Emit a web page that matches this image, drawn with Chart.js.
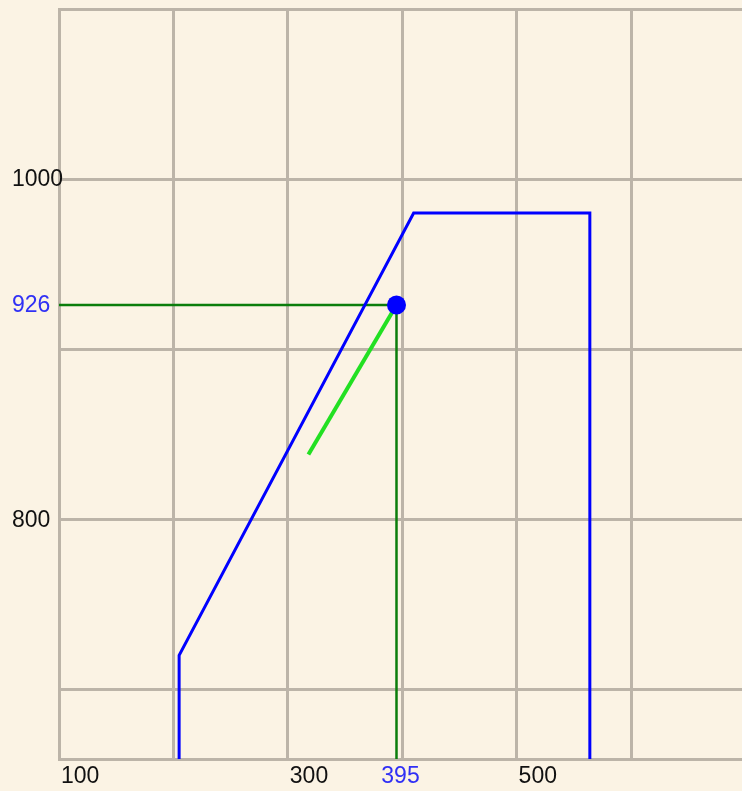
<!DOCTYPE html>
<html>
<head>
<meta charset="utf-8">
<script src="https://cdn.jsdelivr.net/npm/chart.js@4/dist/chart.umd.min.js"></script>
<style>
  html, body { margin: 0; padding: 0; background: #fbf3e4; }
  canvas { display: block; }
</style>
</head>
<body>
<canvas id="c" width="742" height="791"></canvas>
<script>
// Operating envelope outline
const envelopeX = [205, 205, 410, 564, 564];
const envelopeY = [659, 720, 980, 980, 659];

// Trend segment leading to the operating point
const trendX = [318, 395];
const trendY = [838, 926];

// Operating point
const pointX = 395;
const pointY = 926;

// Axis ranges and grid values
const xRange = [100, 697];
const yRange = [659, 1100];
const xGrid = [100, 200, 300, 400, 500, 600];
const yGrid = [700, 800, 900, 1000, 1100];

// Printed tick labels
const xTickLabels = ['100', '300', '500'];
const yTickLabels = ['1000', '800'];

const toPts = (xs, ys) => xs.map((x, i) => ({ x, y: ys[i] }));

const GRID = '#bcb4a8';
const FONT = '23px "Liberation Sans", Arial, sans-serif';

const background = {
  id: 'background',
  beforeDraw(chart) {
    const ctx = chart.ctx;
    ctx.save();
    ctx.fillStyle = '#fbf3e4';
    ctx.fillRect(0, 0, chart.width, chart.height);
    ctx.restore();
  }
};

const tickText = {
  id: 'tickText',
  afterDraw(chart) {
    const ctx = chart.ctx;
    const xs = chart.scales.x, ys = chart.scales.y;
    const baseY = chart.chartArea.bottom + 18;
    ctx.save();
    ctx.font = FONT;
    ctx.textBaseline = 'middle';

    // y labels, left-aligned at the canvas edge
    ctx.textAlign = 'left';
    ctx.fillStyle = '#111111';
    yTickLabels.forEach(t => ctx.fillText(t, 12, ys.getPixelForValue(Number(t)) + 1));
    ctx.fillStyle = '#3030f5';
    ctx.fillText(String(pointY), 12, ys.getPixelForValue(pointY) + 1);

    // x labels, starting at their grid line
    ctx.fillStyle = '#111111';
    xTickLabels.forEach(t => ctx.fillText(t, xs.getPixelForValue(Number(t)) + 2, baseY));
    ctx.textAlign = 'center';
    ctx.fillStyle = '#3030f5';
    ctx.fillText(String(pointX), xs.getPixelForValue(pointX) + 4, baseY);
    ctx.restore();
  }
};

new Chart(document.getElementById('c'), {
  type: 'scatter',
  data: {
    datasets: [
      {
        data: [{ x: pointX, y: pointY }],
        showLine: false,
        pointRadius: 9.5,
        pointBackgroundColor: '#0000ff',
        pointBorderWidth: 0,
        order: 0
      },
      {
        data: toPts(trendX, trendY),
        showLine: true,
        borderColor: '#22e022',
        borderWidth: 4,
        pointRadius: 0,
        order: 1
      },
      {
        data: toPts(envelopeX, envelopeY),
        showLine: true,
        borderColor: '#0000ff',
        borderWidth: 3,
        pointRadius: 0,
        borderJoinStyle: 'miter',
        order: 2
      },
      {
        data: [{ x: xRange[0], y: pointY }, { x: pointX, y: pointY }, { x: pointX, y: yRange[0] }],
        showLine: true,
        borderColor: '#0b7d0b',
        borderWidth: 2.5,
        pointRadius: 0,
        order: 3
      }
    ]
  },
  options: {
    responsive: false,
    animation: false,
    layout: { autoPadding: false, padding: { left: 59, top: 9, right: 0, bottom: 32 } },
    plugins: { legend: { display: false }, tooltip: { enabled: false } },
    scales: {
      x: {
        type: 'linear',
        min: xRange[0],
        max: xRange[1],
        afterBuildTicks: s => { s.ticks = xGrid.map(v => ({ value: v })); },
        ticks: { display: false },
        grid: { color: GRID, lineWidth: 3, drawTicks: false, tickLength: 0 },
        border: { display: true, color: GRID, width: 3 }
      },
      y: {
        type: 'linear',
        min: yRange[0],
        max: yRange[1],
        afterBuildTicks: s => { s.ticks = yGrid.map(v => ({ value: v })); },
        ticks: { display: false },
        grid: { color: GRID, lineWidth: 3, drawTicks: false, tickLength: 0 },
        border: { display: true, color: GRID, width: 3 }
      }
    }
  },
  plugins: [background, tickText]
});
</script>
</body>
</html>
